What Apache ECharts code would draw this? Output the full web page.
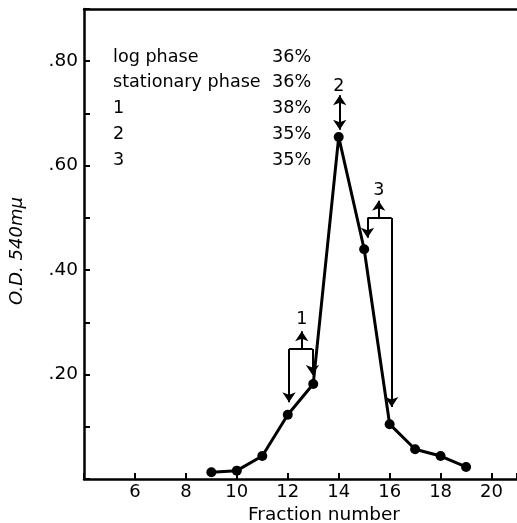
<!DOCTYPE html>
<html style="height: 100%">
    <head>
        <meta charset="utf-8">
    </head>
    <body style="height: 100%; margin: 0; background: #fff">
        <div id="container" style="width: 517px; height: 523px"></div>

        <script type="text/javascript" src="https://cdn.jsdelivr.net/npm/echarts@6/dist/echarts.min.js"></script>
        <script type="text/javascript">
var dom = document.getElementById("container");
var myChart = echarts.init(dom);

// fraction number vs O.D. 540 mμ
var fractions = [9, 10, 11, 12, 13, 14, 15, 16, 17, 18, 19];
var odValues = [0.013, 0.016, 0.044, 0.123, 0.182, 0.655, 0.44, 0.105, 0.057, 0.044, 0.023];

// labelled ticks
var xLabelled = [6, 8, 10, 12, 14, 16, 18, 20];
var yLabelled = [0.2, 0.4, 0.6, 0.8];

var phaseNames = ['log phase', 'stationary phase', '1', '2', '3'];
var phasePct = ['36%', '36%', '38%', '35%', '35%'];

// pooled fractions: brackets / arrows in data coords
var arrowSegs = [
    // pool 1
    [[12.05, 0.249], [12.05, 0.147]],
    [[12.97, 0.249], [12.97, 0.199]],
    [[12.55, 0.249], [12.55, 0.283]],
    // pool 3
    [[15.13, 0.5], [15.13, 0.462]],
    [[16.08, 0.5], [16.08, 0.138]],
    [[15.57, 0.5], [15.57, 0.533]]
];
var barSegs = [
    [[12.05, 0.249], [12.97, 0.249]],
    [[15.13, 0.5], [16.08, 0.5]]
];
var doubleSegs = [
    [[14.04, 0.735], [14.04, 0.669]]
];
var poolLabels = [[12.55, 0.306, '1'], [14.0, 0.751, '2'], [15.57, 0.553, '3']];

var font = 'DejaVu Sans';

function seg(pair, syms) {
    return [
        {coord: pair[0], symbol: syms[0]},
        {coord: pair[1], symbol: syms[1]}
    ];
}

var markData = [];
arrowSegs.forEach(function (p) { markData.push(seg(p, ['none', 'arrow'])); });
barSegs.forEach(function (p) { markData.push(seg(p, ['none', 'none'])); });
doubleSegs.forEach(function (p) { markData.push(seg(p, ['arrow', 'arrow'])); });

var textEls = [];
for (var i = 0; i < phaseNames.length; i++) {
    var ty = 57 + i * 25.8;
    textEls.push({
        type: 'text', left: 113, top: ty - 9,
        style: {text: phaseNames[i], font: '17.6px "' + font + '"', fill: '#000'}
    });
    textEls.push({
        type: 'text', left: 272, top: ty - 9,
        style: {text: phasePct[i], font: '17.6px "' + font + '"', fill: '#000'}
    });
}

function isIn(list, v) {
    for (var k = 0; k < list.length; k++) {
        if (Math.abs(list[k] - v) < 1e-6) return true;
    }
    return false;
}

var option = {
    animation: false,
    backgroundColor: '#fff',
    textStyle: {fontFamily: font, color: '#000'},
    grid: {left: 84, right: 0, top: 9, bottom: 44, outerBoundsMode: 'none', containLabel: false},
    graphic: textEls,
    xAxis: [
        {
            type: 'value',
            min: 4,
            max: 21,
            interval: 2,
            name: 'Fraction number',
            nameLocation: 'middle',
            nameGap: 25,
            nameTextStyle: {fontSize: 18.5, color: '#000', padding: [0, 0, 0, 47]},
            axisLine: {lineStyle: {color: '#000', width: 2.5}},
            axisTick: {inside: true, length: 6, lineStyle: {color: '#000', width: 2}},
            axisLabel: {
                fontSize: 18, color: '#000', margin: 4,
                formatter: function (v) { return isIn(xLabelled, v) ? String(v) : ''; }
            },
            splitLine: {show: false}
        },
        {
            type: 'value',
            position: 'top',
            min: 4,
            max: 21,
            axisLine: {lineStyle: {color: '#000', width: 2.5}},
            axisTick: {show: false},
            axisLabel: {show: false},
            splitLine: {show: false}
        }
    ],
    yAxis: {
        type: 'value',
        min: 0,
        max: 0.9,
        interval: 0.1,
        name: 'O.D. 540mμ',
        nameLocation: 'middle',
        nameGap: 58,
        nameRotate: 90,
        nameTextStyle: {fontSize: 18, fontStyle: 'italic', color: '#000', padding: [0, 14, 0, 0]},
        axisLine: {show: true, lineStyle: {color: '#000', width: 2.5}},
        axisTick: {show: true, inside: true, length: 6, lineStyle: {color: '#000', width: 2}},
        axisLabel: {
            fontSize: 18.5, color: '#000', margin: 6,
            formatter: function (v) { return isIn(yLabelled, v) ? '.' + v.toFixed(2).slice(2) : ''; }
        },
        splitLine: {show: false}
    },
    series: [
        {
            name: 'O.D.',
            type: 'line',
            data: fractions.map(function (f, i) { return [f, odValues[i]]; }),
            symbol: 'circle',
            symbolSize: 10,
            lineStyle: {color: '#000', width: 3},
            itemStyle: {color: '#000'},
            z: 3
        },
        {
            name: 'pools',
            type: 'line',
            data: [],
            markLine: {
                silent: true,
                symbolSize: 10,
                label: {show: false},
                lineStyle: {color: '#000', width: 2, type: 'solid'},
                emphasis: {disabled: true},
                data: markData
            }
        },
        {
            name: 'poolLabels',
            type: 'scatter',
            data: poolLabels,
            symbolSize: 0,
            itemStyle: {color: '#000', opacity: 1},
            label: {
                show: true,
                position: [0, 0],
                align: 'center',
                verticalAlign: 'middle',
                fontSize: 17.5,
                color: '#000',
                formatter: function (p) { return p.value[2]; }
            }
        }
    ]
};

myChart.setOption(option);
        </script>
    </body>
</html>
